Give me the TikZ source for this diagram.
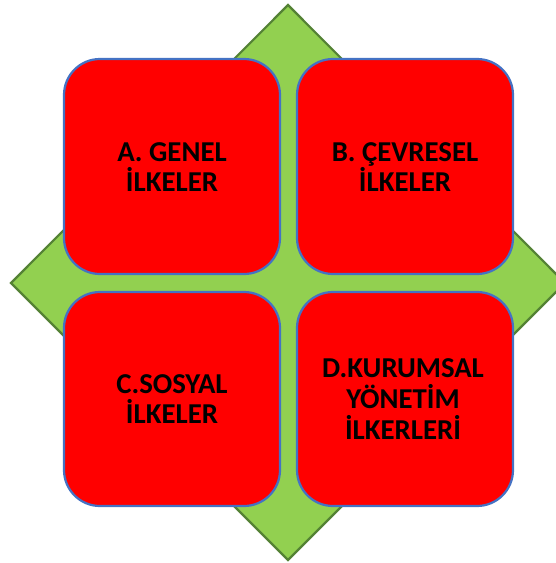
\documentclass[tikz,border=0pt]{standalone}
\usepackage{fontspec}
\setmainfont{Carlito}
\definecolor{dgreen}{HTML}{92D050}
\definecolor{dgreenline}{HTML}{548235}
\definecolor{boxblue}{HTML}{4472C4}
\definecolor{boxred}{HTML}{FF0000}
\begin{document}
\begin{tikzpicture}[x=1pt,y=-1pt,
  redbox/.style={draw=boxblue, line width=2.2pt, fill=boxred, rounded corners=36pt},
  lbl/.style={font=\fontsize{28.8}{30.8}\selectfont\bfseries, align=center, text=black, inner sep=0pt},
  diamondshape/.style={draw=dgreenline, line width=2.2pt, fill=dgreen, line join=miter}]
\useasboundingbox (0,0) rectangle (556,563);
\draw[diamondshape] (288,5) -- (565,283) -- (288,560) -- (11,283) -- cycle;
\draw[redbox] (64,59) rectangle (280,274);
\draw[redbox] (297,59) rectangle (513,274);
\draw[redbox] (64,292) rectangle (280,506);
\draw[redbox] (297,292) rectangle (513,506);
\node[lbl] (a) at (172,167) {A. GENEL\\İLKELER};
\node[lbl] (b) at (405,167) {B. ÇEVRESEL\\İLKELER};
\node[lbl] (c) at (172,399) {C.SOSYAL\\İLKELER};
\node[lbl] (d) at (403,399) {D.KURUMSAL\\YÖNETİM\\İLKERLERİ};
\end{tikzpicture}
\end{document}
